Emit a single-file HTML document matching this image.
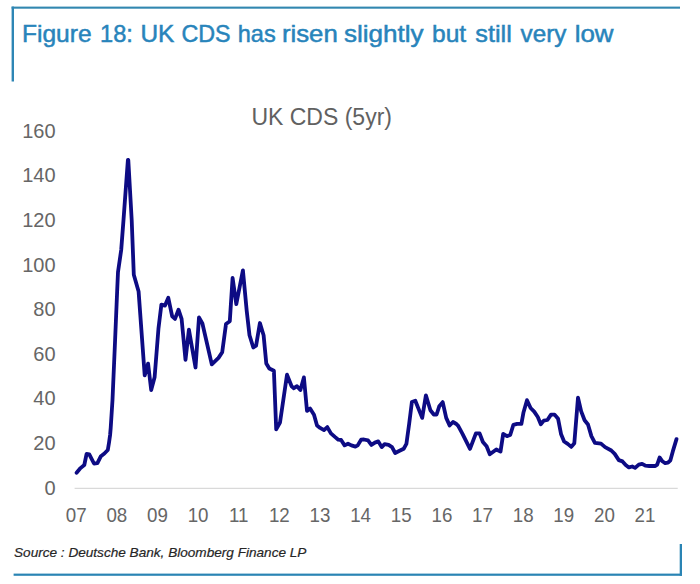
<!DOCTYPE html>
<html><head><meta charset="utf-8"><title>Figure 18: UK CDS has risen slightly but still very low</title><style>
html,body{margin:0;padding:0;background:#fff;}
body{width:700px;height:584px;overflow:hidden;position:relative;}
svg{position:absolute;left:0;top:0;}
.t{font-family:"Liberation Sans",Arial,sans-serif;}
</style></head><body>
<svg width="700" height="584" viewBox="0 0 700 584">
<rect x="0" y="0" width="700" height="584" fill="#fff"/>
<rect x="11.6" y="6.6" width="668.4" height="2.1" fill="#3187b0"/>
<rect x="11.6" y="6.6" width="2.4" height="74.9" fill="#2e86b5"/>
<g class="t" font-size="24" fill="#2884bb" stroke="#2884bb" stroke-width="0.5"><text x="21.95" y="41.6" textLength="69.6" lengthAdjust="spacingAndGlyphs">Figure</text><text x="100.03" y="41.6" textLength="32.82" lengthAdjust="spacingAndGlyphs">18:</text><text x="140.47" y="41.6" textLength="33.88" lengthAdjust="spacingAndGlyphs">UK</text><text x="181.53" y="41.6" textLength="49.12" lengthAdjust="spacingAndGlyphs">CDS</text><text x="237.82" y="41.6" textLength="37.87" lengthAdjust="spacingAndGlyphs">has</text><text x="281.93" y="41.6" textLength="55.88" lengthAdjust="spacingAndGlyphs">risen</text><text x="343.91" y="41.6" textLength="79.68" lengthAdjust="spacingAndGlyphs">slightly</text><text x="431.98" y="41.6" textLength="34.18" lengthAdjust="spacingAndGlyphs">but</text><text x="475.25" y="41.6" textLength="36.51" lengthAdjust="spacingAndGlyphs">still</text><text x="520.5" y="41.6" textLength="45.85" lengthAdjust="spacingAndGlyphs">very</text><text x="574.72" y="41.6" textLength="38.79" lengthAdjust="spacingAndGlyphs">low</text></g>
<text class="t" x="321.7" y="124.9" font-size="23" text-anchor="middle" fill="#616161">UK CDS (5yr)</text>
<g class="t" font-size="20" fill="#666"><text x="55.6" y="494.75" text-anchor="end">0</text><text x="55.6" y="450.10" text-anchor="end">20</text><text x="55.6" y="405.45" text-anchor="end">40</text><text x="55.6" y="360.80" text-anchor="end">60</text><text x="55.6" y="316.15" text-anchor="end">80</text><text x="55.6" y="271.50" text-anchor="end">100</text><text x="55.6" y="226.85" text-anchor="end">120</text><text x="55.6" y="182.20" text-anchor="end">140</text><text x="55.6" y="137.55" text-anchor="end">160</text></g>
<g class="t" font-size="20.4" fill="#666"><text transform="translate(76.20 522.3) scale(0.92 1)" text-anchor="middle">07</text><text transform="translate(116.83 522.3) scale(0.92 1)" text-anchor="middle">08</text><text transform="translate(157.46 522.3) scale(0.92 1)" text-anchor="middle">09</text><text transform="translate(198.09 522.3) scale(0.92 1)" text-anchor="middle">10</text><text transform="translate(238.72 522.3) scale(0.92 1)" text-anchor="middle">11</text><text transform="translate(279.35 522.3) scale(0.92 1)" text-anchor="middle">12</text><text transform="translate(319.98 522.3) scale(0.92 1)" text-anchor="middle">13</text><text transform="translate(360.61 522.3) scale(0.92 1)" text-anchor="middle">14</text><text transform="translate(401.24 522.3) scale(0.92 1)" text-anchor="middle">15</text><text transform="translate(441.87 522.3) scale(0.92 1)" text-anchor="middle">16</text><text transform="translate(482.50 522.3) scale(0.92 1)" text-anchor="middle">17</text><text transform="translate(523.13 522.3) scale(0.92 1)" text-anchor="middle">18</text><text transform="translate(563.76 522.3) scale(0.92 1)" text-anchor="middle">19</text><text transform="translate(604.39 522.3) scale(0.92 1)" text-anchor="middle">20</text><text transform="translate(645.02 522.3) scale(0.92 1)" text-anchor="middle">21</text></g>
<line x1="74.6" y1="488.4" x2="677.7" y2="488.4" stroke="#d9d9d9" stroke-width="1.3"/>
<polyline points="76.6,472.7 80.5,468.1 84.3,465 86.6,453.9 89.3,454.3 94,463.5 97.4,463.1 100.9,456.2 104.4,453.5 107.8,450 109,442.7 110.1,435 110.7,428 112.5,400 115.1,340 117.2,290 118,272 121.2,250 123.5,220 127.9,159.8 128.3,160 131.7,220 133.8,274.8 138.6,291.5 144.7,375.4 148.1,363.6 151.2,390.1 154.6,377.3 158.5,328.2 161.4,304.6 165,305.6 168.3,297.8 172.2,316.4 175,318.9 178.5,309.7 181.6,318.9 185.5,359.8 188.9,329.7 195.5,367.5 199,317.4 202.4,323.5 211.8,364.4 218.5,357.9 222.2,352.2 226,324 229.8,321.2 232.6,277.9 236.3,304.2 242.9,270.3 246.7,310.8 249.5,335.3 253.3,347.5 256.1,345.6 259.9,323 263.6,335.3 266.3,363.5 269.3,368.5 273.9,370.8 276.2,429.4 280,422.5 287,374.7 291.6,386.2 293.9,388.2 297,386.2 300.4,390.1 303.9,377.4 307,410.9 310.1,408.6 314,414.8 317,425.5 320.1,427.9 324,430.1 327.3,427.1 330.9,433.4 334.9,436.9 338.3,439.7 341.1,440 344.6,445.4 348,443.7 351.4,445.4 355.4,446.6 357.7,445.4 361.1,439.7 364,439.5 368,440.3 371.4,444.9 374.9,442.6 378.3,441.4 381.7,447.1 384.6,444.1 388.6,444.9 392,447.1 395.2,453 399.6,450.8 403.7,448.7 406.4,443.9 409.2,423.4 411.9,402.1 415.3,400.8 422.2,417.9 425.9,395.3 430.4,410.3 433.8,414.5 436.6,414.5 439.3,406.2 442.7,402.1 446.2,417.9 449.6,425.4 453,422 456.4,424 458.2,425.9 462.5,433.9 470,448.9 475.9,433.4 479.6,433.4 482.9,442 486.6,446.3 489.8,454.3 496.3,449.5 500.5,451.6 503.2,433.9 507,436.1 510.2,435 513.4,424.8 517.1,423.8 521.4,423.8 523.4,412.8 527,400.2 530.6,408 534.2,411.6 537.8,417 540.8,424.2 543.8,420.6 547.4,420 551,414.6 554.6,414.6 558.1,418.8 561.1,434.3 564.1,441.5 567.7,443.9 571.3,446.9 574.3,443.3 578,397.7 581.2,411.4 584.6,420.3 588,424.5 591.4,436.1 594.9,442.9 601,443.6 605.1,447.1 611.3,450.5 614.7,453.9 618.8,460.1 622.5,461.4 625.7,465 628.9,467.4 632.2,466.5 635.1,467.9 638.8,464.6 642.1,463.8 645.4,465.7 649.2,466 655.3,466 657.2,464.6 659.6,457.5 662.4,461.3 665.2,463.2 668,462.7 670.4,460.3 672.8,451.4 676.5,439.1" fill="none" stroke="#0d0b84" stroke-width="3.8" stroke-linejoin="round" stroke-linecap="round"/>
<text class="t" x="14" y="557" font-size="13.6" font-style="italic" fill="#262626" stroke="#262626" stroke-width="0.2">Source : Deutsche Bank, Bloomberg Finance LP</text>
<rect x="13.6" y="573.6" width="668.4" height="2.2" fill="#2a84b4"/>
<rect x="679.7" y="544" width="2.3" height="31.8" fill="#2a84b4"/>
</svg>
</body></html>
